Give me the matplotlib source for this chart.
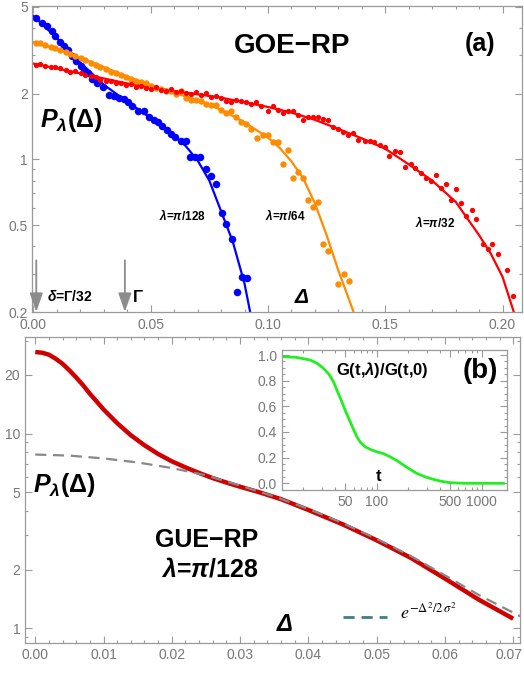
import numpy as np
import matplotlib
matplotlib.use("Agg")
import matplotlib.pyplot as plt
import matplotlib.transforms as mtransforms
from matplotlib.ticker import MultipleLocator, LogLocator, NullFormatter

plt.rcParams['font.family'] = ['Liberation Sans', 'DejaVu Sans']
plt.rcParams['mathtext.fontset'] = 'custom'
plt.rcParams['mathtext.rm'] = 'Liberation Sans:bold'
plt.rcParams['mathtext.it'] = 'Liberation Sans:italic:bold'
plt.rcParams['mathtext.bf'] = 'Liberation Sans:bold'

# ---- panel (a): GOE-RP level spacing histograms and fits ----
blue_dx = [0.0009, 0.0037, 0.0058, 0.0080, 0.0094, 0.0113, 0.0130, 0.0147, 0.0165, 0.0182,
           0.0201, 0.0215, 0.0232, 0.0251, 0.0272, 0.0298, 0.0322, 0.0343, 0.0365, 0.0386,
           0.0403, 0.0422, 0.0446, 0.0471, 0.0493, 0.0514, 0.0533, 0.0550, 0.0568, 0.0585,
           0.0603, 0.0628, 0.0650, 0.0668, 0.0688, 0.0711, 0.0735, 0.0759, 0.0778, 0.0802,
           0.0823, 0.0845, 0.0868, 0.0889, 0.0910]
blue_dy = [4.44, 4.24, 4.09, 3.88, 3.68, 3.47, 3.32, 3.17, 2.98, 2.83,
           2.69, 2.55, 2.50, 2.34, 2.25, 2.15, 1.97, 1.96, 1.92, 1.89,
           1.83, 1.76, 1.67, 1.67, 1.56, 1.51, 1.48, 1.43, 1.37, 1.31,
           1.27, 1.22, 1.21, 1.03, 1.03, 1.03, 0.90, 0.84, 0.77, 0.569,
           0.505, 0.434, 0.248, 0.290, 0.287]

orange_dx = [0.0009, 0.0030, 0.0051, 0.0073, 0.0094, 0.0115, 0.0137, 0.0158, 0.0179, 0.0201,
             0.0222, 0.0244, 0.0265, 0.0286, 0.0308, 0.0329, 0.0350, 0.0372, 0.0393, 0.0415,
             0.0436, 0.0457, 0.0479, 0.0500, 0.0521, 0.0543, 0.0564, 0.0585, 0.0607, 0.0628,
             0.0650, 0.0671, 0.0692, 0.0714, 0.0735, 0.0756, 0.0778, 0.0799, 0.0821, 0.0842,
             0.0863, 0.0885, 0.0906, 0.0927, 0.0953, 0.0977, 0.0999, 0.1020, 0.1041, 0.1063,
             0.1084, 0.1106, 0.1127, 0.1148, 0.1170, 0.1191, 0.1212, 0.1236, 0.1258, 0.1300,
             0.1323, 0.1347]
orange_dy = [3.43, 3.40, 3.35, 3.28, 3.24, 3.17, 3.11, 3.04, 2.99, 2.93,
             2.85, 2.78, 2.72, 2.64, 2.59, 2.53, 2.48, 2.44, 2.39, 2.34,
             2.30, 2.27, 2.23, 2.18, 2.12, 2.10, 2.07, 2.07, 2.00, 2.05,
             1.91, 1.87, 1.88, 1.85, 1.79, 1.78, 1.78, 1.69, 1.63, 1.66,
             1.57, 1.48, 1.45, 1.38, 1.26, 1.30, 1.29, 1.20, 1.20, 0.95,
             1.11, 0.82, 0.875, 0.82, 0.65, 0.605, 0.64, 0.408, 0.381, 0.269,
             0.298, 0.278]

red_dx = [0.0009, 0.0030, 0.0051, 0.0073, 0.0094, 0.0115, 0.0137, 0.0158, 0.0179, 0.0201,
          0.0222, 0.0244, 0.0265, 0.0286, 0.0308, 0.0329, 0.0350, 0.0372, 0.0393, 0.0415,
          0.0436, 0.0457, 0.0479, 0.0500, 0.0521, 0.0543, 0.0564, 0.0585, 0.0607, 0.0628,
          0.0650, 0.0671, 0.0692, 0.0714, 0.0735, 0.0756, 0.0778, 0.0799, 0.0821, 0.0842,
          0.0863, 0.0885, 0.0906, 0.0927, 0.0949, 0.0970, 0.0999, 0.1020, 0.1041, 0.1063,
          0.1084, 0.1105, 0.1127, 0.1148, 0.1170, 0.1191, 0.1212, 0.1234, 0.1255, 0.1276,
          0.1298, 0.1319, 0.1341, 0.1362, 0.1383, 0.1412, 0.1433, 0.1454, 0.1476, 0.1497,
          0.1518, 0.1540, 0.1561, 0.1585, 0.1608, 0.1628, 0.1651, 0.1672, 0.1694, 0.1715,
          0.1736, 0.1761, 0.1782, 0.1803, 0.1825, 0.1846, 0.1868, 0.1889, 0.1915, 0.1936,
          0.1957, 0.1979, 0.2021, 0.2046]
red_dy = [2.72, 2.74, 2.69, 2.66, 2.64, 2.62, 2.57, 2.53, 2.55, 2.48,
          2.44, 2.42, 2.38, 2.31, 2.28, 2.30, 2.23, 2.25, 2.20, 2.22,
          2.15, 2.18, 2.13, 2.10, 2.14, 2.08, 2.05, 2.10, 2.03, 2.07,
          2.01, 2.00, 2.03, 1.98, 2.01, 1.94, 1.96, 1.91, 1.86, 1.83,
          1.87, 1.86, 1.83, 1.80, 1.83, 1.76, 1.67, 1.76, 1.69, 1.63,
          1.67, 1.66, 1.60, 1.52, 1.56, 1.57, 1.56, 1.53, 1.52, 1.41,
          1.38, 1.33, 1.29, 1.32, 1.23, 1.21, 1.21, 1.20, 1.17, 1.14,
          1.04, 1.09, 1.08, 0.92, 0.955, 0.91, 0.87, 0.82, 0.80, 0.845,
          0.74, 0.77, 0.65, 0.73, 0.63, 0.55, 0.585, 0.536, 0.41, 0.39,
          0.41, 0.368, 0.311, 0.237]

# fitted curves
blue_fx = [0.0, 0.01, 0.02, 0.03, 0.04, 0.05, 0.055, 0.06, 0.065, 0.07, 0.075, 0.08, 0.085, 0.09, 0.0924]
blue_fy = [4.55, 3.6, 2.78, 2.2, 1.84, 1.55, 1.42, 1.29, 1.15, 0.99, 0.80, 0.58, 0.42, 0.27, 0.2]
orange_fx = [0.0, 0.01, 0.02, 0.03, 0.04, 0.05, 0.06, 0.07, 0.08, 0.09, 0.10, 0.105, 0.11, 0.115,
             0.12, 0.125, 0.13, 0.1365]
orange_fy = [3.45, 3.2, 2.93, 2.65, 2.40, 2.19, 2.02, 1.87, 1.69, 1.48, 1.26, 1.13, 0.98, 0.82,
             0.63, 0.45, 0.31, 0.2]
red_fx = [0.0, 0.02, 0.04, 0.06, 0.08, 0.10, 0.11, 0.12, 0.13, 0.14, 0.15, 0.16, 0.17, 0.18,
          0.19, 0.195, 0.20, 0.2048]
red_fy = [2.75, 2.48, 2.23, 2.06, 1.92, 1.74, 1.64, 1.52, 1.38, 1.25, 1.12, 0.95, 0.80, 0.64,
          0.45, 0.37, 0.29, 0.2]

gamma = 0.039
delta = gamma / 32

# ---- panel (b): GUE-RP, lambda = pi/128 ----
gue_x = [0.0, 0.001, 0.002, 0.003, 0.004, 0.005, 0.006, 0.007, 0.008, 0.009, 0.010, 0.012, 0.014,
         0.016, 0.018, 0.020, 0.022, 0.024, 0.026, 0.028, 0.030, 0.033, 0.036, 0.040, 0.045,
         0.050, 0.055, 0.060, 0.065, 0.070]
gue_y = [26.2, 26.0, 25.4, 24.2, 22.8, 21.1, 19.4, 17.7, 16.0, 14.6, 13.3, 11.3, 9.8,
         8.7, 7.85, 7.2, 6.7, 6.27, 5.9, 5.6, 5.33, 4.97, 4.6, 4.05, 3.42,
         2.83, 2.3, 1.8, 1.4, 1.12]
gauss_x = [0.0, 0.005, 0.01, 0.015, 0.02, 0.025, 0.03, 0.035, 0.04, 0.045, 0.05, 0.055, 0.06,
           0.065, 0.0713]
gauss_y = [7.8, 7.7, 7.45, 7.1, 6.65, 6.1, 5.4, 4.75, 4.1, 3.47, 2.88, 2.35, 1.87, 1.48, 1.14]

# inset: G(t, lambda)/G(t, 0)
t_vals = [12.9, 17, 23.2, 27, 31.0, 35, 38.6, 42, 46.4, 50.5, 55.7, 60, 64.5, 70, 77.4, 88, 100,
          115, 134, 155, 179, 205, 240, 290, 346, 410, 499, 600, 720, 1607]
g_ratio = [0.987, 0.982, 0.961, 0.935, 0.896, 0.85, 0.792, 0.72, 0.636, 0.56, 0.480, 0.42, 0.363,
           0.318, 0.285, 0.262, 0.246, 0.232, 0.207, 0.178, 0.143, 0.112, 0.078, 0.050, 0.031,
           0.016, 0.005, 0.002, 0.0, 0.0]

TICK_C = '#9a9a9a'
LABEL_C = '#777777'


def frame(ax, size=10):
    for s in ax.spines.values():
        s.set_color(TICK_C)
        s.set_linewidth(0.9)
    ax.tick_params(which='both', direction='in', top=True, right=True,
                   color=TICK_C, labelcolor=LABEL_C, labelsize=size, width=0.8)
    ax.tick_params(which='major', length=5)
    ax.tick_params(which='minor', length=2.5)


fig = plt.figure(figsize=(5.24, 6.73), dpi=100)
W, H = 524, 673

# top panel
ax1 = fig.add_axes([32 / W, 1 - 312 / H, 490 / W, 306 / H])
ax1.set_yscale('log')
ax1.plot(blue_fx, blue_fy, color='#0000ff', lw=1.6)
ax1.plot(orange_fx, orange_fy, color='#ff8c00', lw=1.6)
ax1.plot(red_fx, red_fy, color='#ff0000', lw=1.6)
ax1.plot(blue_dx, blue_dy, 'o', color='#0000ff', ms=5.4, mew=0)
ax1.plot(orange_dx, orange_dy, 'o', color='#ff8c00', ms=4.6, mew=0)
ax1.plot(red_dx, red_dy, 'o', color='#ff0000', ms=3.8, mew=0)
ax1.set_xlim(-0.0006, 0.2083)
ax1.set_ylim(0.2, 5.05)
frame(ax1)
ax1.set_xticks([0.0, 0.05, 0.10, 0.15, 0.20], labels=['0.00', '0.05', '0.10', '0.15', '0.20'])
ax1.xaxis.set_minor_locator(MultipleLocator(0.01))
ax1.set_yticks([0.2, 0.5, 1, 2, 5], labels=['0.2', '0.5', '1', '2', '5'])
ax1.yaxis.set_minor_locator(LogLocator(subs=np.arange(2, 10)))
ax1.yaxis.set_minor_formatter(NullFormatter())
ax1.tick_params(axis='x', pad=4)
ax1.tick_params(axis='y', pad=3)

for xa in (delta, gamma):
    ax1.annotate('', xy=(xa, 0.2), xytext=(xa, 0.345),
                 arrowprops=dict(arrowstyle='-|>,head_length=1.15,head_width=0.4',
                                 color='#8c8c8c', lw=1.3, shrinkA=0, shrinkB=0))

ax1.text(0.531, 0.869, 'GOE−RP', transform=ax1.transAxes, fontsize=20, fontweight='bold',
         ha='center', va='center')
ax1.text(0.914, 0.876, '(a)', transform=ax1.transAxes, fontsize=18, fontweight='bold',
         ha='center', va='center')
ax1.text(0.016, 0.627, r'$P_{\lambda}(\Delta)$', transform=ax1.transAxes, fontsize=18,
         ha='left', va='center')
ax1.text(0.307, 0.314, r'$\lambda$=$\pi$/128', transform=ax1.transAxes, fontsize=8.5,
         fontweight='bold', ha='center', va='center')
ax1.text(0.516, 0.314, r'$\lambda$=$\pi$/64', transform=ax1.transAxes, fontsize=8.5,
         fontweight='bold', ha='center', va='center')
ax1.text(0.822, 0.294, r'$\lambda$=$\pi$/32', transform=ax1.transAxes, fontsize=8.5,
         fontweight='bold', ha='center', va='center')
ax1.text(0.551, 0.049, 'Δ', transform=ax1.transAxes, fontsize=15, fontweight='bold',
         style='italic', ha='center', va='center')
ax1.text(0.031, 0.052, r'$\delta$=Γ/32', transform=ax1.transAxes, fontsize=10,
         fontweight='bold', ha='left', va='center')
ax1.text(0.206, 0.049, 'Γ', transform=ax1.transAxes, fontsize=12, fontweight='bold',
         ha='left', va='center')

# bottom panel
ax2 = fig.add_axes([25 / W, 1 - 643 / H, 495 / W, 306 / H])
ax2.set_yscale('log')
ax2.plot(gue_x, gue_y, color='#d00000', lw=3.2, solid_capstyle='butt')
ax2.plot(gauss_x, gauss_y, color='#888888', lw=1.6, dashes=(5, 3))
ax2.set_xlim(-0.0015, 0.0710)
ax2.set_ylim(0.84, 31.3)
frame(ax2)
ax2.set_xticks(np.arange(0, 0.071, 0.01), labels=['0.00', '0.01', '0.02', '0.03', '0.04',
                                                  '0.05', '0.06', '0.07'])
ax2.xaxis.set_minor_locator(MultipleLocator(0.002))
ax2.set_yticks([1, 2, 5, 10, 20], labels=['1', '2', '5', '10', '20'])
ax2.yaxis.set_minor_locator(LogLocator(subs=np.arange(2, 10)))
ax2.yaxis.set_minor_formatter(NullFormatter())
# last label sits against the right edge; pull it in a little
last = ax2.get_xticklabels()[-1]
last.set_transform(last.get_transform() + mtransforms.ScaledTranslation(-4 / 100, 0, fig.dpi_scale_trans))

ax2.text(0.016, 0.516, r'$P_{\lambda}(\Delta)$', transform=ax2.transAxes, fontsize=18,
         ha='left', va='center')
ax2.text(0.471, 0.337, 'GUE−RP', transform=ax2.transAxes, fontsize=18, fontweight='bold',
         ha='right', va='center')
ax2.text(0.471, 0.239, r'$\lambda$=$\pi$/128', transform=ax2.transAxes, fontsize=18,
         fontweight='bold', ha='right', va='center')
ax2.text(0.525, 0.059, 'Δ', transform=ax2.transAxes, fontsize=17, fontweight='bold',
         style='italic', ha='center', va='center')
ax2.plot([0.643, 0.731], [0.086, 0.086], transform=ax2.transAxes, color='#3f7f7f',
         lw=2.0, dashes=(4, 2.5))
ax2.text(0.758, 0.10, r'$e^{-\Delta^2/2\,\sigma^2}$', transform=ax2.transAxes, fontsize=13,
         math_fontfamily='stix', ha='left', va='center')

# inset
ax3 = fig.add_axes([281.7 / W, 1 - 490 / H, 225 / W, 140 / H])
ax3.set_xscale('log')
ax3.plot(t_vals, g_ratio, color='#22ee22', lw=2.0)
ax3.set_xlim(12.4, 1730)
ax3.set_ylim(-0.052, 1.039)
frame(ax3)
ax3.set_xticks([50, 100, 500, 1000], labels=['50', '100', '500', '1000'])
ax3.xaxis.set_minor_locator(LogLocator(subs=np.arange(2, 10)))
ax3.xaxis.set_minor_formatter(NullFormatter())
ax3.set_yticks(np.arange(0, 1.01, 0.2), labels=['0.0', '0.2', '0.4', '0.6', '0.8', '1.0'])
ax3.yaxis.set_minor_locator(MultipleLocator(0.05))
ax3.text(0.446, 0.857, r'G(t,$\lambda$)/G(t,0)', transform=ax3.transAxes, fontsize=12,
         fontweight='bold', ha='center', va='center')
ax3.text(0.884, 0.85, '(b)', transform=ax3.transAxes, fontsize=20, fontweight='bold',
         ha='center', va='center')
ax3.text(0.43, 0.093, 't', transform=ax3.transAxes, fontsize=12, fontweight='bold',
         ha='center', va='center')

fig.savefig('out.png', dpi=100)
